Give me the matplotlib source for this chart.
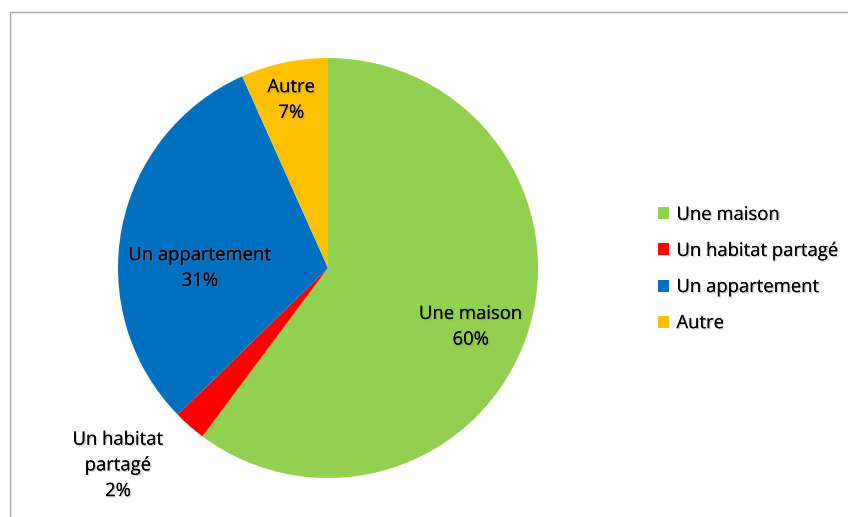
import matplotlib.pyplot as plt
import matplotlib.patheffects as pe
from matplotlib.patches import Rectangle, Patch

# --- dati ---
categorie = ["Une maison", "Un habitat partagé", "Un appartement", "Autre"]
valori = [60.2, 2.5, 30.6, 6.7]
percentuali = ["60%", "2%", "31%", "7%"]
colori = ["#92D050", "#FF0000", "#0070C0", "#FFC000"]

# testi delle etichette e posizione (relativa al centro, raggio = 1)
nomi_etichette = ["Une maison", "Un habitat\npartagé", "Un appartement", "Autre"]
pos_etichette = [(0.68, -0.28), (-1.0, -0.94), (-0.61, 0.0), (-0.175, 0.80)]

plt.rcParams['font.family'] = ['Open Sans', 'DejaVu Sans']

W, H = 848, 517
fig = plt.figure(figsize=(W / 100, H / 100), dpi=100)

# bordo dell'area grafico (solo sopra e a sinistra visibili)
fig.add_artist(Rectangle((10 / W, -0.1), 1.2, 1.1 - 12 / H,
                         transform=fig.transFigure, fill=False,
                         edgecolor="#A6A6A6", linewidth=1.0))

cx, cy, r = 328, 268, 210
ax = fig.add_axes([(cx - r) / W, (H - cy - r) / H, 2 * r / W, 2 * r / H])
ax.pie(valori, colors=colori, startangle=90, counterclock=False,
       radius=1, wedgeprops=dict(linewidth=0))
ax.set_xlim(-1, 1)
ax.set_ylim(-1, 1)
ax.set_aspect('equal')
ax.axis('off')

ombra = [pe.withSimplePatchShadow(offset=(1, -1), shadow_rgbFace='gray', alpha=0.35),
         pe.Normal()]

for (x, y), nome, p in zip(pos_etichette, nomi_etichette, percentuali):
    ax.text(x, y, nome + "\n" + p, ha='center', va='center', fontsize=13.3,
            color='black', linespacing=1.55, path_effects=ombra, clip_on=False)

handles = [Patch(facecolor=c, edgecolor='none') for c in colori]
leg = fig.legend(handles, categorie, loc='center left',
                 bbox_to_anchor=(641 / W, (H - 269) / H),
                 frameon=False, fontsize=13.3, handlelength=0.62, handleheight=0.62,
                 handletextpad=0.4, labelspacing=0.98)
for t in leg.get_texts():
    t.set_path_effects(ombra)

fig.savefig("out.png", dpi=100)
